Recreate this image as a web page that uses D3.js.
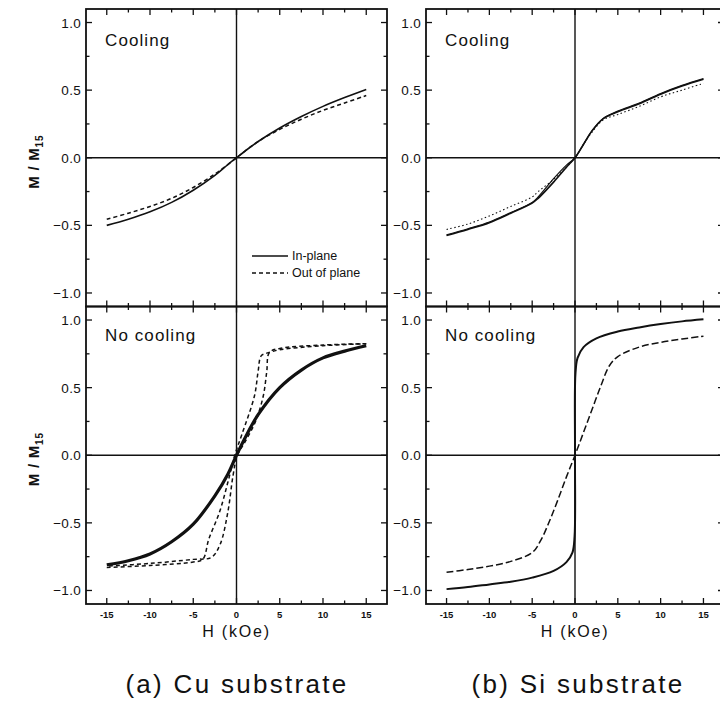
<!DOCTYPE html>
<html>
<head>
<meta charset="utf-8">
<script src="https://cdn.jsdelivr.net/npm/d3@7"></script>
<style>
  body { margin: 0; background: #fff; }
  text { font-family: "Liberation Sans", Arial, sans-serif; fill: #111; }
</style>
</head>
<body>
<svg id="chart" width="720" height="706"></svg>
<script>
// tick values
var xTicks = [-15, -10, -5, 0, 5, 10, 15],
    xMinor = [-12.5, -7.5, -2.5, 2.5, 7.5, 12.5],
    yTicks = [-1.0, -0.5, 0.0, 0.5, 1.0],
    yMinor = [-0.75, -0.25, 0.25, 0.75];

// (a) Cu substrate, cooling
var cuCoolH   = [-15, -12.5, -10, -7.5, -5, -2.5, -1, 0, 1, 2.5, 5, 7.5, 10, 12.5, 15];
var cuCoolIn  = [-0.50, -0.455, -0.40, -0.33, -0.24, -0.13, -0.05, 0, 0.05, 0.12, 0.22, 0.305, 0.38, 0.445, 0.505];
var cuCoolOut = [-0.455, -0.41, -0.36, -0.30, -0.22, -0.12, -0.05, 0, 0.05, 0.12, 0.21, 0.285, 0.35, 0.405, 0.46];

// (a) Cu substrate, no cooling
var cuNoInH = [-15, -12.5, -10, -7.5, -5, -2.5, -1, 0, 1, 2.5, 5, 7.5, 10, 12.5, 15];
var cuNoIn  = [-0.81, -0.78, -0.73, -0.64, -0.51, -0.30, -0.14, 0, 0.13, 0.30, 0.50, 0.63, 0.72, 0.77, 0.81];
var cuNoDescH = [15, 10, 5, 3.8, 3.5, 3.1, 2.2, 1.0, 0.1, -0.4, -1.0, -1.9, -2.9, -5, -10, -15];
var cuNoDescM = [0.825, 0.815, 0.79, 0.76, 0.62, 0.44, 0.25, 0.10, 0, -0.15, -0.42, -0.66, -0.755, -0.77, -0.80, -0.82];
var cuNoAscH  = [-15, -10, -5, -3.9, -3.2, -1.96, -1.0, -0.2, 0.6, 2.08, 2.5, 2.85, 3.5, 5, 10, 15];
var cuNoAscM  = [-0.83, -0.815, -0.79, -0.77, -0.62, -0.42, -0.20, 0, 0.15, 0.44, 0.62, 0.735, 0.755, 0.78, 0.81, 0.825];

// (b) Si substrate, cooling
var siCoolH   = [-15, -12.5, -10, -7.5, -5, -4.3, -2.5, -1, 0, 1, 2, 3.3, 5, 7.5, 10, 12.5, 15];
var siCoolIn  = [-0.575, -0.53, -0.48, -0.41, -0.335, -0.30, -0.18, -0.07, 0, 0.10, 0.20, 0.29, 0.34, 0.40, 0.47, 0.53, 0.58];
var siCoolIn2 = [-0.57, -0.525, -0.475, -0.405, -0.33, -0.29, -0.155, -0.055, 0, 0.10, 0.20, 0.29, 0.345, 0.405, 0.475, 0.535, 0.585];
var siCoolOut = [-0.53, -0.49, -0.43, -0.36, -0.29, -0.25, -0.16, -0.07, 0, 0.10, 0.19, 0.28, 0.32, 0.38, 0.45, 0.50, 0.55];

// (b) Si substrate, no cooling
var siNoInH = [-15, -12.5, -10, -7.5, -5, -2.5, -1, -0.3, -0.05, 0, 0.05, 0.3, 1, 2.5, 5, 7.5, 10, 12.5, 15];
var siNoIn  = [-0.99, -0.975, -0.955, -0.935, -0.905, -0.855, -0.79, -0.72, -0.6, 0, 0.6, 0.72, 0.80, 0.865, 0.915, 0.945, 0.97, 0.99, 1.005];
var siNoOutH = [-15, -12.5, -10, -7.5, -5, -4, -3, -2, -1, 0, 1, 2, 3, 4, 5, 7.5, 10, 12.5, 15];
var siNoOut  = [-0.865, -0.845, -0.82, -0.785, -0.72, -0.63, -0.49, -0.33, -0.16, 0, 0.17, 0.34, 0.51, 0.66, 0.73, 0.80, 0.835, 0.86, 0.88];

function pts(hs, ms) {
  return hs.map(function(h, i) { return [h, ms[i]]; });
}

var svg = d3.select("#chart");

var cols = [{x0: 86, x1: 387}, {x0: 426, x1: 724}],
    rows = [{y0: 9, y1: 306.5}, {y0: 306.5, y1: 604}];

var panels = [
  {c: 0, r: 0, label: "Cooling", curves: [
    {d: pts(cuCoolH, cuCoolIn), w: 1.6},
    {d: pts(cuCoolH, cuCoolOut), w: 1.5, dash: "4,3"}
  ]},
  {c: 0, r: 1, label: "No cooling", curves: [
    {d: pts(cuNoDescH, cuNoDescM), w: 1.5, dash: "4,3"},
    {d: pts(cuNoAscH, cuNoAscM), w: 1.5, dash: "4,3"},
    {d: pts(cuNoInH, cuNoIn), w: 3.2}
  ]},
  {c: 1, r: 0, label: "Cooling", curves: [
    {d: pts(siCoolH, siCoolOut), w: 1.1, dash: "1.5,2.5"},
    {d: pts(siCoolH, siCoolIn), w: 1.6},
    {d: pts(siCoolH, siCoolIn2), w: 1.2}
  ]},
  {c: 1, r: 1, label: "No cooling", curves: [
    {d: pts(siNoOutH, siNoOut), w: 1.5, dash: "7,3"},
    {d: pts(siNoInH, siNoIn), w: 2}
  ]}
];

panels.forEach(function(p) {
  var col = cols[p.c], row = rows[p.r];
  var x = d3.scaleLinear().domain([-17.4, 17.4]).range([col.x0, col.x1]);
  var y = d3.scaleLinear().domain([-1.1, 1.1]).range([row.y1, row.y0]);
  var g = svg.append("g");

  // zero lines
  g.append("line").attr("x1", x(0)).attr("x2", x(0)).attr("y1", row.y0).attr("y2", row.y1)
    .attr("stroke", "#111").attr("stroke-width", 1.4);
  g.append("line").attr("x1", col.x0).attr("x2", col.x1).attr("y1", y(0)).attr("y2", y(0))
    .attr("stroke", "#111").attr("stroke-width", 1.6);

  // inward ticks on all four sides
  var tk = g.append("g").attr("stroke", "#111").attr("stroke-width", 1.3);
  [[xTicks, 6], [xMinor, 3.5]].forEach(function(t) {
    t[0].forEach(function(v) {
      tk.append("line").attr("x1", x(v)).attr("x2", x(v)).attr("y1", row.y1).attr("y2", row.y1 - t[1]);
      tk.append("line").attr("x1", x(v)).attr("x2", x(v)).attr("y1", row.y0).attr("y2", row.y0 + t[1]);
    });
  });
  [[yTicks, 6], [yMinor, 3.5]].forEach(function(t) {
    t[0].forEach(function(v) {
      tk.append("line").attr("x1", col.x0).attr("x2", col.x0 + t[1]).attr("y1", y(v)).attr("y2", y(v));
      tk.append("line").attr("x1", col.x1).attr("x2", col.x1 - t[1]).attr("y1", y(v)).attr("y2", y(v));
    });
  });

  // frame
  g.append("rect").attr("x", col.x0).attr("y", row.y0)
    .attr("width", col.x1 - col.x0).attr("height", row.y1 - row.y0)
    .attr("fill", "none").attr("stroke", "#111").attr("stroke-width", 1.8);

  // y tick labels
  g.selectAll("text.yt").data(yTicks).enter().append("text")
    .attr("class", "yt")
    .attr("x", col.x0 - 5).attr("y", function(d) { return y(d) + 5; })
    .attr("text-anchor", "end").style("font-size", "13.5px").style("letter-spacing", "0.3px")
    .text(function(d) { return d3.format(".1f")(d); });

  // x tick labels on the lower panels
  if (p.r == 1) {
    g.selectAll("text.xt").data(xTicks).enter().append("text")
      .attr("class", "xt")
      .attr("x", function(d) { return x(d); }).attr("y", row.y1 + 14)
      .attr("text-anchor", "middle").style("font-size", "9.5px").style("font-weight", "bold")
      .text(function(d) { return d; });
    g.append("text").attr("x", x(0)).attr("y", row.y1 + 33)
      .attr("text-anchor", "middle").style("font-size", "16px").style("letter-spacing", "1.8px")
      .text("H (kOe)");
  }

  g.append("text").attr("x", col.x0 + 19).attr("y", row.y0 + (p.r == 0 ? 37 : 34))
    .style("font-size", "17px").style("letter-spacing", "1.1px")
    .text(p.label);

  var line = d3.line()
    .x(function(d) { return x(d[0]); })
    .y(function(d) { return y(d[1]); })
    .curve(d3.curveCatmullRom.alpha(0.5));

  p.curves.forEach(function(c) {
    g.append("path").attr("d", line(c.d))
      .attr("fill", "none").attr("stroke", "#111")
      .attr("stroke-width", c.w)
      .attr("stroke-dasharray", c.dash || null)
      .attr("stroke-linejoin", "round");
  });

  // y axis title, left column only
  if (p.c == 0) {
    var yl = g.append("text")
      .attr("transform", "translate(39," + (y(0) + 4) + ") rotate(-90)")
      .attr("text-anchor", "middle").style("font-size", "15px").style("font-weight", "bold")
      .style("letter-spacing", "0.8px");
    yl.append("tspan").text("M / M");
    yl.append("tspan").attr("dy", 4).style("font-size", "10px").text("15");
  }

  // legend in the first panel
  if (p.c == 0 && p.r == 0) {
    var lg = g.append("g");
    lg.append("line").attr("x1", 252).attr("x2", 288).attr("y1", 256).attr("y2", 256)
      .attr("stroke", "#111").attr("stroke-width", 1.5);
    lg.append("line").attr("x1", 252).attr("x2", 288).attr("y1", 273).attr("y2", 273)
      .attr("stroke", "#111").attr("stroke-width", 1.5).attr("stroke-dasharray", "4,3");
    lg.append("text").attr("x", 292).attr("y", 260).style("font-size", "12.5px").text("In-plane");
    lg.append("text").attr("x", 292).attr("y", 277).style("font-size", "12.5px").text("Out of plane");
  }
});

// captions
var captions = ["(a) Cu substrate", "(b) Si substrate"];
svg.selectAll("text.cap").data(captions).enter().append("text")
  .attr("class", "cap")
  .attr("x", function(d, i) { return i == 0 ? 237 : 578; })
  .attr("y", 693)
  .attr("text-anchor", "middle")
  .style("font-size", "26px").style("letter-spacing", "2.3px")
  .text(function(d) { return d; });
</script>
</body>
</html>
